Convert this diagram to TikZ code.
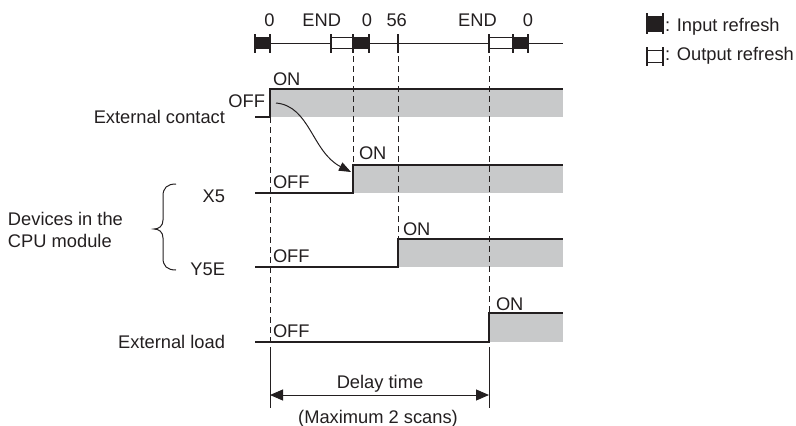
\documentclass[tikz,border=0pt]{standalone}
\usepackage{fontspec}
\setmainfont{Liberation Sans}
\usetikzlibrary{arrows.meta}
\definecolor{ink}{RGB}{35,31,32}
\definecolor{fillgray}{RGB}{200,201,202}
\newcommand\inrefblk[4]{% x1 x2 ytop ybottom
  \filldraw[inblk] (#1,#3) rectangle (#2,#4);}
\newcommand\outrefblk[4]{%
  \filldraw[outblk] (#1,#3) rectangle (#2,#4);}
\begin{document}
\begin{tikzpicture}[x=1pt,y=-1pt,
  txt/.style={inner sep=0pt,outer sep=0pt,font=\fontsize{18.3}{22}\selectfont,text=ink},
  wave/.style={draw=ink,line width=1.1pt},
  guide/.style={draw=ink,line width=0.9pt,dash pattern=on 6pt off 4pt},
  tickline/.style={draw=ink,line width=1.1pt},
  inblk/.style={fill=ink,draw=ink,line width=0.8pt},
  outblk/.style={fill=white,draw=ink,line width=1pt},
  hi/.style={fill=fillgray},
  tip/.style={-{Triangle[length=12pt,width=10pt]}},
]
\useasboundingbox (0,0) rectangle (796,426);

% ---------- top scan timeline ----------
\draw[tickline,line width=0.9pt] (255,43) -- (563,43);
\outrefblk{331}{353}{37}{48}
\outrefblk{489}{513}{37}{48}
\inrefblk{255}{270}{37}{48}
\inrefblk{353}{369}{37}{48}
\inrefblk{513}{528}{37}{48}
\foreach \xx in {255,270,331,353,369,398,489,513,528}
  \draw[tickline] (\xx,34) -- (\xx,53);

\node[txt,anchor=base] (s0a) at (269.5,26.5) {0};
\node[txt,anchor=base] (e1)  at (321.7,26.5) {END};
\node[txt,anchor=base] (s0b) at (367,26.5) {0};
\node[txt,anchor=base] (s56) at (396.7,26.5) {56};
\node[txt,anchor=base] (e2)  at (477.5,26.5) {END};
\node[txt,anchor=base] (s0c) at (528,26.5) {0};

% ---------- legend ----------
\inrefblk{647}{663}{16}{31}
\draw[tickline] (647,13) -- (647,34);
\draw[tickline] (663,13) -- (663,34);
\node[txt,anchor=base west] (lgin) at (665,31) {: Input refresh};
\outrefblk{647}{663}{50}{62}
\draw[tickline] (647,47) -- (647,66);
\draw[tickline] (663,47) -- (663,66);
\node[txt,anchor=base west] (lgout) at (665,60) {: Output refresh};

% ---------- gray ON areas ----------
\fill[hi] (270,89) rectangle (563,117);
\fill[hi] (353,165) rectangle (563,193);
\fill[hi] (398,239) rectangle (563,267);
\fill[hi] (489,313) rectangle (563,342);

% ---------- dashed guides ----------
\draw[guide] (270,117) -- (270,342);
\draw[guide] (353,56) -- (353,165);
\draw[guide] (398,56) -- (398,239);
\draw[guide] (489,56) -- (489,313);

% ---------- waveforms ----------
\draw[wave] (255,117) -- (270,117) -- (270,89) -- (563,89);
\draw[wave] (255,193) -- (353,193) -- (353,165) -- (563,165);
\draw[wave] (255,267) -- (398,267) -- (398,239) -- (563,239);
\draw[wave] (255,342) -- (489,342) -- (489,313) -- (563,313);

% ---------- ON / OFF labels ----------
\node[txt,anchor=base west] (on1)  at (273,85)  {ON};
\node[txt,anchor=base east] (off1) at (265,107) {OFF};
\node[txt,anchor=base west] (on2)  at (359,159) {ON};
\node[txt,anchor=base west] (off2) at (273,188) {OFF};
\node[txt,anchor=base west] (on3)  at (403,235) {ON};
\node[txt,anchor=base west] (off3) at (273,262) {OFF};
\node[txt,anchor=base west] (on4)  at (496,310) {ON};
\node[txt,anchor=base west] (off4) at (273,337) {OFF};

% ---------- causal arrow ----------
\coordinate (cs) at (276,103);
\coordinate (ce) at (351,172);
\draw[ink,line width=1pt,-{Triangle[length=12pt,width=9pt]}]
  (cs) .. controls (310,106) and (312,152) .. (ce);

% ---------- signal names ----------
\node[txt,anchor=base east] (nec) at (225,123) {External contact};
\node[txt,anchor=base east] (nx5) at (225,202) {X5};
\node[txt,anchor=base east] (ny5e) at (225,275) {Y5E};
\node[txt,anchor=base east] (nel) at (225,348) {External load};
\node[txt,anchor=base west] (dev1) at (8,225) {Devices in the};
\node[txt,anchor=base west] (dev2) at (8,247) {CPU module};

% brace
\draw[ink,line width=1pt]
  (176,184) .. controls (167,184) and (163,188) .. (163,196) -- (163,220)
  .. controls (163,226) and (159,229) .. (154,229)
  .. controls (159,229) and (163,232) .. (163,238) -- (163,258)
  .. controls (163,266) and (167,270) .. (176,270);

% ---------- delay time ----------
\coordinate (dl) at (270,395);
\coordinate (dr) at (489,395);
\draw[ink,line width=1pt] (270,347) -- (270,408);
\draw[ink,line width=1pt] (489,347) -- (489,408);
\draw[ink,line width=1pt,{Triangle[length=13pt,width=11pt]}-{Triangle[length=13pt,width=11pt]}]
  (dl) -- (dr);
\node[txt,anchor=base] (dt) at (380,388) {Delay time};
\node[txt,anchor=base] (mx) at (378,423) {(Maximum 2 scans)};
\end{tikzpicture}
\end{document}
